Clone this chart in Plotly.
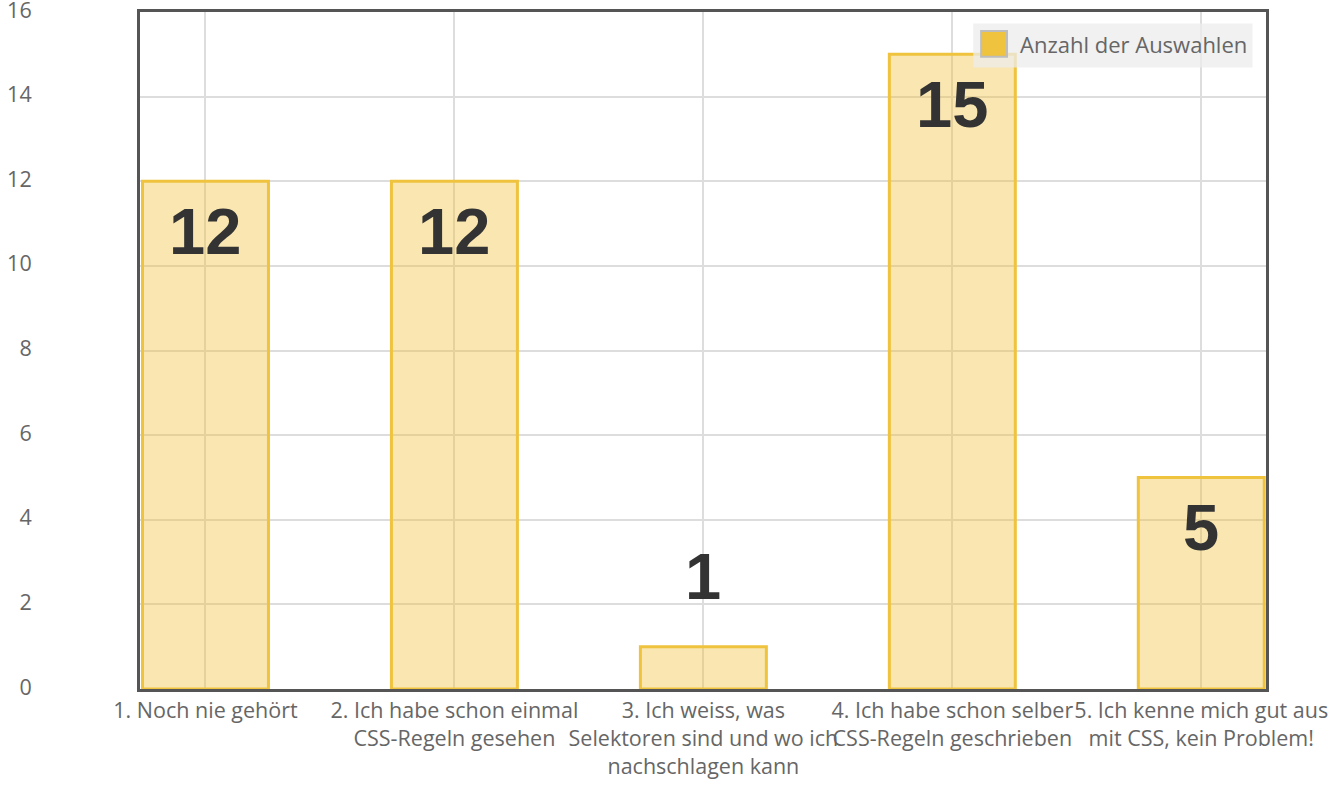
import plotly.graph_objects as go

# Antwortkategorien und Anzahl der Auswahlen
categories = [
    "1. Noch nie gehört",
    "2. Ich habe schon einmal<br>CSS-Regeln gesehen",
    "3. Ich weiss, was<br>Selektoren sind und wo ich<br>nachschlagen kann",
    "4. Ich habe schon selber<br>CSS-Regeln geschrieben",
    "5. Ich kenne mich gut aus<br>mit CSS, kein Problem!",
]
counts = [12, 12, 1, 15, 5]
y_ticks = [0, 2, 4, 6, 8, 10, 12, 14, 16]
series_name = "Anzahl der Auswahlen"

BAR_FILL = "rgba(239, 193, 58, 0.4)"
BAR_LINE = "#efc33e"
FRAME = "#555555"
TEXT = "#666666"

positions = list(range(len(categories)))

fig = go.Figure(
    go.Bar(
        x=positions,
        y=counts,
        width=0.506,
        marker=dict(color=BAR_FILL, line=dict(color=BAR_LINE, width=3)),
        name=series_name,
        showlegend=False,
    )
)

# Wertebeschriftungen: innen oben bei hohen Balken, darüber bei niedrigen
for x, v in zip(positions, counts):
    fig.add_annotation(
        x=x, y=v, text=f"<b>{v}</b>", showarrow=False,
        yshift=-50 if v >= 3 else 70,
        font=dict(family="Liberation Sans, Arial", size=65, color="#333333"),
    )

# eigene Legende oben rechts
fig.add_shape(type="rect", xref="paper", yref="paper", x0=0.740, x1=0.988, y0=0.918, y1=0.983,
              fillcolor="rgba(236, 236, 236, 0.75)", line=dict(width=0), layer="above")
fig.add_shape(type="rect", xref="paper", yref="paper", x0=0.747, x1=0.770, y0=0.934, y1=0.972,
              fillcolor="#efc33e", line=dict(color="#bdbdbd", width=2), layer="above")
fig.add_annotation(xref="paper", yref="paper", x=0.7795, y=0.952, xanchor="left", yanchor="middle",
                   text=series_name, showarrow=False, font=dict(size=22, color=TEXT))

fig.update_layout(
    width=1331,
    height=789,
    margin=dict(l=140, r=65, t=12, b=100),
    paper_bgcolor="white",
    plot_bgcolor="white",
    font=dict(family="Open Sans", size=22, color=TEXT),
)
fig.update_xaxes(
    range=[-0.263, 4.26],
    tickvals=positions,
    ticktext=categories,
    tickangle=0,
    showgrid=True,
    gridcolor="#dddddd",
    gridwidth=1.5,
    showline=True,
    mirror=True,
    linecolor=FRAME,
    linewidth=3,
    ticks="",
    zeroline=False,
    automargin=False,
    tickfont=dict(size=21.5, color=TEXT),
)
fig.update_yaxes(
    range=[0, 16],
    tickvals=y_ticks,
    showgrid=True,
    gridcolor="#dddddd",
    gridwidth=1.5,
    showline=True,
    mirror=True,
    linecolor=FRAME,
    linewidth=3,
    ticks="",
    zeroline=False,
    automargin=False,
    ticklabelstandoff=101,
    ticklabelshift=-2,
    ticklabeloverflow="allow",
    tickfont=dict(size=21.5, color=TEXT),
)

fig.write_html(
    "out.html",
    config={"displayModeBar": False},
    post_script="document.body.style.margin='0';",
)
